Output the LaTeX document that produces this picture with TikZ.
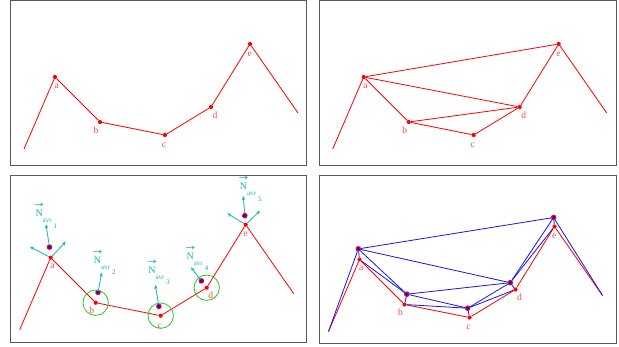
\documentclass[tikz,border=0pt]{standalone}
\usepackage{fontspec}
\setmainfont{Liberation Serif}
\newfontfamily\arrowfont{DejaVu Sans}
\usepackage{graphicx}
\usetikzlibrary{arrows.meta}
\definecolor{ptred}{RGB}{255,0,0}
\definecolor{lblred}{RGB}{255,70,70}
\definecolor{nrmcyan}{RGB}{20,180,180}
\definecolor{circgreen}{RGB}{40,200,40}
\definecolor{avgblue}{RGB}{20,20,235}
\tikzset{
    frame/.style={draw=black!65, line width=0.9pt},
    rdot/.style={circle, fill=ptred, inner sep=0pt, minimum size=4.2pt},
    adot/.style={circle, fill=avgblue, draw=ptred, line width=0.9pt, inner sep=0pt, minimum size=4.6pt},
    redline/.style={draw=ptred, line width=0.8pt},
    blueline/.style={draw=avgblue, line width=0.8pt},
    lbl/.style={text=lblred, font=\fontsize{9.5}{11}\selectfont, inner sep=0pt},
    nrm/.style={draw=nrmcyan, line width=0.8pt, -{Stealth[length=4pt,width=3.4pt]}},
    nlbl/.style={text=nrmcyan, font=\fontsize{10}{12}\selectfont, inner sep=0pt, anchor=base west},
    gcirc/.style={draw=circgreen, line width=0.8pt}
}
% N with arrow and avr index
\newcommand{\vecN}{\ooalign{N\cr\hidewidth\raisebox{9pt}{\scalebox{1.3}[0.9]{\arrowfont\fontsize{9}{10}\selectfont →}}\hidewidth\cr}}
\newcommand{\navr}[1]{\vecN\raisebox{-6pt}{\fontsize{7}{8}\selectfont avr\hspace{2pt}\raisebox{-5.5pt}{#1}}}
% the polyline a..e with its labels
\newcommand{\curvenodes}[1]{%
    \coordinate (#1s) at (24,149);
    \node[rdot] (#1a) at (55,77) {};
    \node[rdot] (#1b) at (100,122) {};
    \node[rdot] (#1c) at (165,135) {};
    \node[rdot] (#1d) at (211,107) {};
    \node[rdot] (#1e) at (250,44) {};
    \coordinate (#1t) at (298,113);
    \node[lbl] (#1la) at (56.7,86) {a};
    \node[lbl] (#1lb) at (96,130) {b};
    \node[lbl] (#1lc) at (164,145.3) {c};
    \node[lbl] (#1ld) at (215,115) {d};
    \node[lbl] (#1le) at (249.7,54) {e};
}
% the averaged points
\newcommand{\avgnodes}[1]{%
    \node[adot] (#1A) at (53.8,66.4) {};
    \node[adot] (#1B) at (102.3,111.7) {};
    \node[adot] (#1C) at (163.2,125.7) {};
    \node[adot] (#1D) at (205.7,100.2) {};
    \node[adot] (#1E) at (249.1,35) {};
}

\begin{document}
\begin{tikzpicture}[x=1pt, y=-1pt]
\useasboundingbox (0,0) rectangle (619,347);
% panel frames
\draw[frame] (10.7,0.6) rectangle (306.7,165.5);
\draw[frame] (319.3,0.6) rectangle (616,165.5);
\draw[frame] (10.7,175.2) rectangle (306.7,342.3);
\draw[frame] (319.3,175.6) rectangle (616.5,343);

% top left: input polyline
\begin{scope}
\curvenodes{p}
\draw[redline] (ps) -- (pa) -- (pb) -- (pc) -- (pd) -- (pe) -- (pt);
\end{scope}

% top right: with extra edges
\begin{scope}[shift={(308.7,0)}]
\curvenodes{q}
\draw[redline] (qs) -- (qa) -- (qb) -- (qc) -- (qd) -- (qe) -- (qt);
\draw[redline] (qa) -- (qe);
\draw[redline] (qa) -- (qd);
\draw[redline] (qb) -- (qd);
\end{scope}

% bottom left: averaged normals
\begin{scope}[shift={(-4.3,180.7)}]
\curvenodes{r}
\draw[redline] (rs) -- (ra) -- (rb) -- (rc) -- (rd) -- (re) -- (rt);
\avgnodes{r}
\draw[gcirc] (rb) circle (12.7pt);
\draw[gcirc] (rc) circle (12.7pt);
\draw[gcirc] (rd) circle (12.7pt);
\coordinate (raL) at (34.3,66);
\coordinate (raR) at (70,61);
\coordinate (raU) at (50.3,43.6);
\coordinate (rbU) at (106,92);
\coordinate (rcU) at (159.6,104.3);
\coordinate (rdU) at (195.3,86.6);
\coordinate (reL) at (231.6,32.6);
\coordinate (reR) at (264.3,30);
\coordinate (reU) at (247.6,15.3);
\draw[nrm] (ra) -- (raL);
\draw[nrm] (ra) -- (raR);
\draw[nrm] (rA) -- (raU);
\draw[nrm] (rB) -- (rbU);
\draw[nrm] (rC) -- (rcU);
\draw[nrm] (rD) -- (rdU);
\draw[nrm] (re) -- (reL);
\draw[nrm] (re) -- (reR);
\draw[nrm] (rE) -- (reU);
\node[nlbl] (rna) at (39.6,36) {\navr{1}};
\node[nlbl] (rnb) at (98,82.6) {\navr{2}};
\node[nlbl] (rnc) at (152.4,92.6) {\navr{3}};
\node[nlbl] (rnd) at (190.7,78.6) {\navr{4}};
\node[nlbl] (rne) at (244,9.3) {\navr{5}};
\end{scope}

% bottom right: moved polyline
\begin{scope}[shift={(304.5,182.5)}]
\curvenodes{u}
\draw[redline] (us) -- (ua) -- (ub) -- (uc) -- (ud) -- (ue) -- (ut);
\avgnodes{u}
\draw[blueline] (us) -- (uA) -- (uB) -- (uC) -- (uD) -- (uE) -- (ut);
\draw[blueline] (uA) -- (uE);
\draw[blueline] (uA) -- (uD);
\draw[blueline] (uB) -- (uD);
\draw[blueline] (uA) -- (ua);
\draw[blueline] (uB) -- (ub);
\draw[blueline] (uC) -- (uc);
\draw[blueline] (uD) -- (ud);
\draw[blueline] (uE) -- (ue);
\draw[blueline] (ua) -- (uB);
\draw[blueline] (ub) -- (uC);
\draw[blueline] (uC) -- (ud);
\draw[blueline] (uD) -- (ue);
\end{scope}
\end{tikzpicture}
\end{document}
